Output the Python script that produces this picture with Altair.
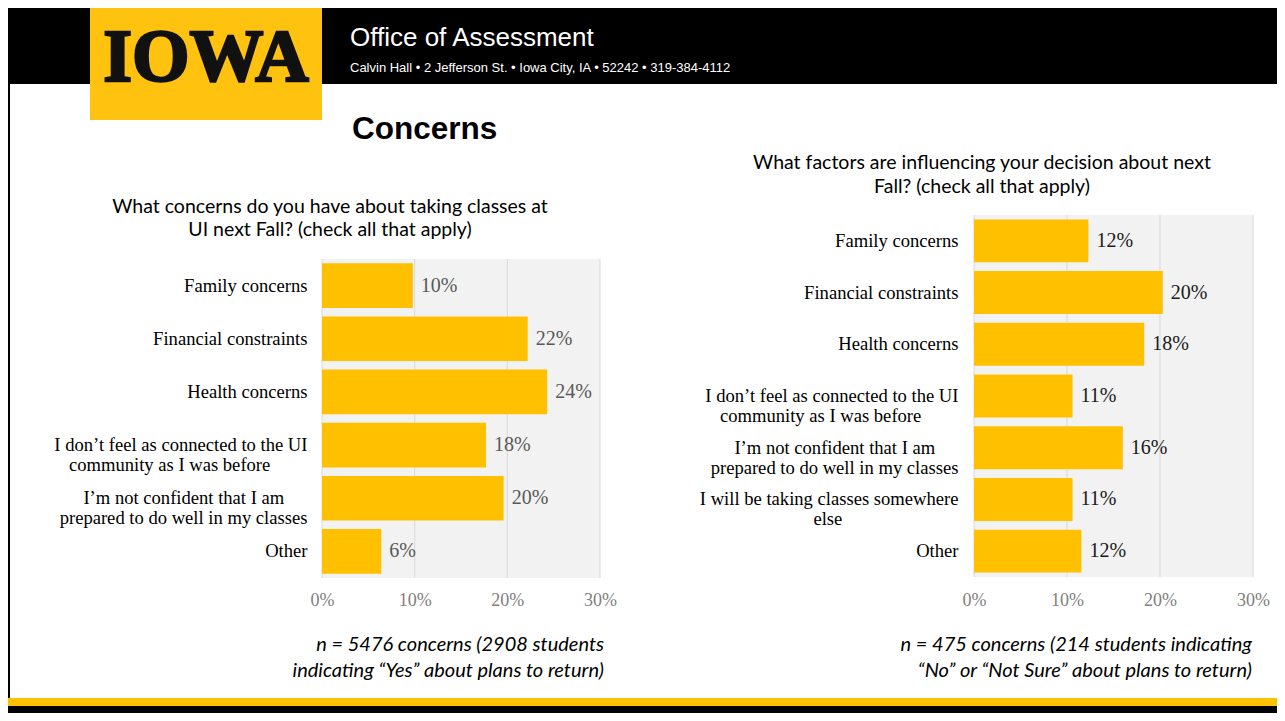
import altair as alt
import pandas as pd

# ---------------- data ----------------
left_cats = [
    "Family concerns",
    "Financial constraints",
    "Health concerns",
    "I don\u2019t feel as connected to the UI|community as I was before",
    "I\u2019m not confident that I am|prepared to do well in my classes",
    "Other",
]
left_vals = [0.098, 0.222, 0.243, 0.177, 0.196, 0.064]

right_cats = [
    "Family concerns",
    "Financial constraints",
    "Health concerns",
    "I don\u2019t feel as connected to the UI|community as I was before",
    "I\u2019m not confident that I am|prepared to do well in my classes",
    "I will be taking classes somewhere|else",
    "Other",
]
right_vals = [0.123, 0.203, 0.183, 0.106, 0.160, 0.106, 0.1155]

tick_values = [0, 0.1, 0.2, 0.3]

left_title = ["What concerns do you have about taking classes at", "UI next Fall? (check all that apply)"]
right_title = ["What factors are influencing your decision about next", "Fall? (check all that apply)"]
left_note = ["n = 5476 concerns (2908 students", "indicating \u201cYes\u201d about plans to return)"]
right_note = ["n = 475 concerns (214 students indicating", "\u201cNo\u201d or \u201cNot Sure\u201d about plans to return)"]

header_title = "Office of Assessment"
header_addr = "Calvin Hall \u2022 2 Jefferson St. \u2022 Iowa City, IA \u2022 52242 \u2022 319-384-4112"
page_title = "Concerns"

# ---------------- styling ----------------
W, H = 1269, 705
GOLD = "#FFC000"
SERIF = "Liberation Serif"
SANS = "Lato"
NB = "\u00a0"
ZW = "\u200b"

one = alt.Data(values=[{}])

# two-line axis labels: lines centred on each other
# (trailing no-break spaces on the shorter line, closed by a zero-width space so they are kept)
_p = "split(datum.label, '|')"
_l0, _l1 = f"{_p}[0]", f"{_p}[1]"
_k0 = f"round(max(0, length({_l1}) - length({_l0})) * 0.82)"
_k1 = f"round(max(0, length({_l0}) - length({_l1})) * 0.82)"
LABEL_EXPR = (
    f"length({_p}) > 1 ? "
    f"[pad({_l0}, length({_l0}) + {_k0}, '{NB}') + '{ZW}', "
    f"pad({_l1}, length({_l1}) + {_k1}, '{NB}') + '{ZW}']"
    f" : datum.label"
)


def rect(x1, x2, y1, y2, color):
    return alt.Chart(one).mark_rect(color=color).encode(
        x=alt.value(x1), x2=alt.value(x2), y=alt.value(y1), y2=alt.value(y2)
    )


def text(t, x, y, **kw):
    return alt.Chart(one).mark_text(text=t, **kw).encode(x=alt.value(x), y=alt.value(y))


def bar_panel(cats, vals, xr, yr, pad_in, label_color, ypad, xoff, xpad):
    df = pd.DataFrame({"cat": cats, "v": vals})
    xs = alt.Scale(domain=[0, 0.3], range=xr, nice=False, zero=True)
    ys = alt.Scale(domain=cats, range=yr, paddingInner=pad_in, paddingOuter=pad_in / 2)
    xaxis = alt.Axis(
        values=tick_values, format=".0%", orient="bottom", offset=xoff, domain=False,
        ticks=False, grid=False, title=None, labelPadding=xpad, labelFont=SERIF,
        labelFontSize=18, labelColor="#808080", labelOverlap=False, labelFlush=False,
    )
    yaxis = alt.Axis(
        orient="left", offset=-xr[0], domain=False, ticks=False, grid=False, title=None,
        labelExpr=LABEL_EXPR, labelLineHeight=20, labelLimit=400,
        labelPadding=ypad, labelFont=SERIF, labelFontSize=18.6, labelColor="#000000",
        labelOverlap=False,
    )
    bg = alt.Chart(pd.DataFrame({"a": [0.0], "b": [0.3]})).mark_rect(color="#F2F2F2").encode(
        x=alt.X("a:Q", scale=xs, axis=xaxis), x2="b:Q",
        y=alt.value(yr[0]), y2=alt.value(yr[1]),
    )
    grid = alt.Chart(pd.DataFrame({"t": tick_values})).mark_rule(color="#D9D9D9", strokeWidth=1).encode(
        x=alt.X("t:Q", scale=xs, axis=xaxis),
        y=alt.value(yr[0]), y2=alt.value(yr[1]),
    )
    bars = alt.Chart(df).mark_bar(color=GOLD).encode(
        x=alt.X("v:Q", scale=xs, axis=xaxis),
        y=alt.Y("cat:N", scale=ys, axis=yaxis, sort=None),
    )
    labels = alt.Chart(df).mark_text(
        align="left", baseline="middle", dx=8, font=SERIF, fontSize=20, color=label_color
    ).encode(
        x=alt.X("v:Q", scale=xs, axis=xaxis),
        y=alt.Y("cat:N", scale=ys, axis=yaxis, sort=None),
        text=alt.Text("v:Q", format=".0%"),
    )
    return alt.layer(bg, grid, bars, labels)


left = bar_panel(left_cats, left_vals, [314, 592], [251, 570], 0.16, "#595959", 15, -135, 13)
right = bar_panel(right_cats, right_vals, [966, 1245], [207, 569], 0.17, "#1a1a1a", 16, -138, 16)

decor = [
    rect(0, W, 0, 76, "#000000"),
    rect(82, 314, 0, 112, "#FFC20E"),
    text("IOWA", 198, 51, font=SERIF, fontWeight="bold", fontSize=74, stroke="#111111",
         strokeWidth=2.5, color="#111111", align="center", baseline="middle"),
    text(header_title, 342, 38, font="Liberation Sans", fontSize=26,
         color="#ffffff", align="left", baseline="alphabetic"),
    text(header_addr, 342, 64, font="Liberation Sans", fontSize=13,
         color="#ffffff", align="left", baseline="alphabetic"),
    text(page_title, 344, 131, font="Liberation Sans", fontWeight="bold", fontSize=31.5,
         color="#000000", align="left", baseline="alphabetic"),
    text(left_title, 322, 199, font=SANS, fontSize=19.5, lineHeight=23, color="#000000",
         align="center", baseline="middle"),
    text(right_title, 974, 155, font=SANS, fontSize=19.5, lineHeight=24, color="#000000",
         align="center", baseline="middle"),
    text(left_note, 596, 637, font=SANS, fontStyle="italic", fontSize=20, lineHeight=26,
         color="#000000", align="right", baseline="middle"),
    text(right_note, 1244, 637, font=SANS, fontStyle="italic", fontSize=20, lineHeight=26,
         color="#000000", align="right", baseline="middle"),
    rect(0, 2, 76, 698, "#000000"),
    rect(0, W, 690, 698, GOLD),
    rect(0, W, 698, H, "#000000"),
]

chart = (
    alt.layer(*decor, left, right)
    .resolve_scale(x="independent", y="independent")
    .resolve_axis(x="independent", y="independent")
    .properties(width=W, height=H, autosize=alt.AutoSizeParams(type="none"), padding=0,
                background="#ffffff")
    .configure_view(stroke=None)
)

chart.save("out.html", embed_options={"renderer": "svg", "actions": False})
